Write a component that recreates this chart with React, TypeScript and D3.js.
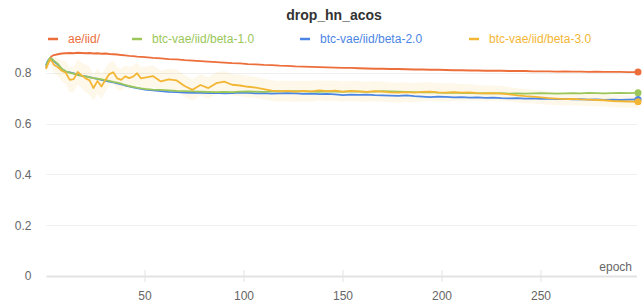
// App.tsx
// Line chart "drop_hn_acos": four training runs plotted against epoch,
// with a faint spread band behind the beta-3.0 run.
import React, { useMemo } from 'react';
import { scaleLinear, line as d3Line, area as d3Area } from 'd3';

const WIDTH = 644;
const HEIGHT = 308;
const FONT = '"Liberation Sans", Arial, Helvetica, sans-serif';

const title = 'drop_hn_acos';
const xLabel = 'epoch';
const xTicks = [50, 100, 150, 200, 250];
const yTicks = [0, 0.2, 0.4, 0.6, 0.8];

const epochs = [
  0, 1, 2, 3, 4, 6, 8, 10, 12, 14, 16, 18, 20, 22, 24, 26, 28, 30, 32, 34, 36, 38, 40, 42, 44, 46, 48,
  50, 54, 58, 62, 66, 70, 74, 78, 82, 86, 90, 94, 98, 102, 106, 110, 114, 118, 122, 126, 130, 134, 138,
  142, 146, 150, 154, 158, 162, 166, 170, 174, 178, 182, 186, 190, 194, 198, 202, 206, 210, 214, 218,
  222, 226, 230, 234, 238, 242, 246, 250, 254, 258, 262, 266, 270, 274, 278, 282, 286, 290, 294, 299,
];

const aeIid = [
  0.82, 0.84, 0.858, 0.866, 0.87, 0.873, 0.876, 0.877, 0.878, 0.877, 0.879, 0.878, 0.877, 0.878, 0.876,
  0.877, 0.875, 0.876, 0.874, 0.873, 0.872, 0.87, 0.869, 0.867, 0.866, 0.864, 0.863, 0.862, 0.859, 0.857,
  0.854, 0.853, 0.85, 0.848, 0.846, 0.844, 0.842, 0.84, 0.838, 0.837, 0.834, 0.833, 0.831, 0.83, 0.828,
  0.827, 0.825, 0.824, 0.823, 0.822, 0.821, 0.82, 0.819, 0.819, 0.818, 0.817, 0.816, 0.816, 0.815, 0.815,
  0.814, 0.813, 0.813, 0.812, 0.812, 0.811, 0.81, 0.81, 0.809, 0.809, 0.808, 0.808, 0.808, 0.807, 0.807,
  0.807, 0.806, 0.806, 0.806, 0.805, 0.806, 0.805, 0.805, 0.804, 0.805, 0.804, 0.804, 0.804, 0.803, 0.803,
];

const beta1 = [
  0.825, 0.845, 0.858, 0.855, 0.848, 0.835, 0.815, 0.806, 0.8, 0.797, 0.791, 0.788, 0.786, 0.782, 0.779,
  0.777, 0.774, 0.771, 0.768, 0.764, 0.761, 0.757, 0.752, 0.748, 0.745, 0.742, 0.739, 0.737, 0.734, 0.733,
  0.731, 0.729, 0.728, 0.727, 0.726, 0.725, 0.724, 0.725, 0.724, 0.726, 0.727, 0.726, 0.725, 0.727, 0.728,
  0.727, 0.728, 0.727, 0.726, 0.725, 0.727, 0.726, 0.725, 0.727, 0.726, 0.725, 0.726, 0.728, 0.727, 0.726,
  0.725, 0.724, 0.723, 0.724, 0.722, 0.721, 0.722, 0.72, 0.721, 0.719, 0.72, 0.719, 0.72, 0.718, 0.719,
  0.718, 0.719, 0.72, 0.719, 0.718, 0.719, 0.72, 0.719, 0.721, 0.72, 0.719, 0.72, 0.721, 0.72, 0.721,
];

const beta2 = [
  0.83, 0.848, 0.856, 0.852, 0.845, 0.832, 0.815, 0.805, 0.802, 0.798, 0.793, 0.789, 0.786, 0.783, 0.779,
  0.776, 0.772, 0.768, 0.765, 0.762, 0.758, 0.754, 0.75, 0.747, 0.743, 0.74, 0.737, 0.734, 0.731, 0.728,
  0.725, 0.724, 0.722, 0.721, 0.721, 0.72, 0.721, 0.719, 0.72, 0.722, 0.721, 0.719, 0.72, 0.718, 0.719,
  0.72, 0.719, 0.717, 0.718, 0.716, 0.717, 0.715, 0.712, 0.714, 0.713, 0.714, 0.712, 0.711, 0.71, 0.709,
  0.711, 0.708, 0.706, 0.704, 0.706, 0.705, 0.703, 0.704, 0.702, 0.703, 0.701, 0.702, 0.7, 0.699, 0.7,
  0.698, 0.699, 0.697, 0.698, 0.696, 0.697, 0.695, 0.696, 0.694, 0.695, 0.693, 0.694, 0.693, 0.694, 0.695,
];

const beta3 = [
  0.815, 0.835, 0.852, 0.845, 0.832, 0.822, 0.808, 0.8, 0.772, 0.775, 0.803, 0.79, 0.778, 0.77, 0.74,
  0.768, 0.746, 0.772, 0.795, 0.802, 0.778, 0.772, 0.786, 0.779, 0.785, 0.798, 0.778, 0.781, 0.787, 0.766,
  0.774, 0.77, 0.748, 0.733, 0.752, 0.74, 0.759, 0.765, 0.753, 0.75, 0.745, 0.742, 0.736, 0.73, 0.727,
  0.729, 0.726, 0.729, 0.727, 0.731, 0.728, 0.73, 0.726, 0.729, 0.727, 0.725, 0.728, 0.726, 0.723, 0.722,
  0.724, 0.722, 0.725, 0.726, 0.723, 0.722, 0.724, 0.722, 0.723, 0.72, 0.719, 0.72, 0.718, 0.715, 0.711,
  0.708, 0.706, 0.703, 0.7, 0.698, 0.696, 0.697, 0.695, 0.694, 0.693, 0.692, 0.689, 0.688, 0.687, 0.686,
];

// half-width of the faint band drawn around beta-3.0
const beta3Spread = [
  0.01, 0.015, 0.02, 0.025, 0.03, 0.035, 0.04, 0.045, 0.05, 0.05, 0.05, 0.05, 0.055, 0.055, 0.05, 0.05,
  0.048, 0.046, 0.045, 0.045, 0.045, 0.044, 0.044, 0.044, 0.043, 0.043, 0.043, 0.043, 0.043, 0.042, 0.042,
  0.042, 0.042, 0.042, 0.042, 0.042, 0.042, 0.042, 0.042, 0.042, 0.042, 0.041, 0.041, 0.041, 0.041, 0.041,
  0.041, 0.041, 0.041, 0.04, 0.04, 0.04, 0.04, 0.04, 0.04, 0.04, 0.04, 0.04, 0.039, 0.039, 0.039, 0.038,
  0.038, 0.037, 0.037, 0.036, 0.035, 0.034, 0.033, 0.032, 0.031, 0.03, 0.03, 0.029, 0.028, 0.028, 0.027,
  0.027, 0.026, 0.026, 0.025, 0.025, 0.025, 0.025, 0.025, 0.025, 0.025, 0.025, 0.025, 0.025,
];

interface Series {
  name: string;
  color: string;
  values: number[];
}

const series: Series[] = [
  { name: 'ae/iid/', color: '#ec6e3b', values: aeIid },
  { name: 'btc-vae/iid/beta-1.0', color: '#9bc75a', values: beta1 },
  { name: 'btc-vae/iid/beta-2.0', color: '#4c86e4', values: beta2 },
  { name: 'btc-vae/iid/beta-3.0', color: '#f3b634', values: beta3 },
];

// draw order: the later ones sit on top
const drawOrder = [0, 2, 1, 3];
const legendX = [48, 132, 300, 469];

export default function App() {
  const x = useMemo(() => scaleLinear().domain([0, 299]).range([46, 638]), []);
  const y = useMemo(() => scaleLinear().domain([0, 1]).range([276, 22]), []);

  const lineGen = d3Line<number>()
    .x((_, i) => x(epochs[i]))
    .y((d) => y(d));

  const bandGen = d3Area<number>()
    .x((_, i) => x(epochs[i]))
    .y0((d, i) => y(d - beta3Spread[i]))
    .y1((d, i) => y(d + beta3Spread[i]));

  const last = epochs.length - 1;

  return (
    <div style={{ position: 'fixed', left: 0, top: 0 }}>
      <svg width={WIDTH} height={HEIGHT} style={{ display: 'block', fontFamily: FONT }}>
        <rect width={WIDTH} height={HEIGHT} fill="#fff" />

        <text x={334} y={20} textAnchor="middle" fontSize={14} fontWeight="bold" fill="#333">
          {title}
        </text>

        {series.map((s, i) => (
          <g key={s.name} transform={`translate(${legendX[i]},39)`}>
            <line x1={0} x2={10} y1={0} y2={0} stroke={s.color} strokeWidth={2.5} />
            <text x={20} y={4.3} fontSize={12} fill={s.color}>
              {s.name}
            </text>
          </g>
        ))}

        {/* grid */}
        {yTicks.map((t) => (
          <g key={t}>
            <line
              x1={46.5}
              x2={637}
              y1={Math.round(y(t)) + 0.5}
              y2={Math.round(y(t)) + 0.5}
              stroke={t === 0 ? '#e3e3e3' : '#efefef'}
              strokeWidth={t === 0 ? 2 : 1}
            />
            <text x={31.5} y={y(t) + 4.3} textAnchor="end" fontSize={12} fill="#666">
              {t === 0 ? '0' : t.toFixed(1)}
            </text>
          </g>
        ))}

        {xTicks.map((t) => (
          <g key={t}>
            <line x1={x(t)} x2={x(t)} y1={270} y2={282} stroke="#e3e3e3" strokeWidth={1} />
            <text x={x(t)} y={300} textAnchor="middle" fontSize={12} fill="#666">
              {t}
            </text>
          </g>
        ))}
        <text x={632} y={271} textAnchor="end" fontSize={12} fill="#666">
          {xLabel}
        </text>

        {/* spread band for beta-3.0 */}
        <path d={bandGen(beta3) || ''} fill="#f3b634" fillOpacity={0.1} stroke="none" />

        {drawOrder.map((i) => {
          const s = series[i];
          return (
            <path
              key={s.name}
              d={lineGen(s.values) || ''}
              fill="none"
              stroke={s.color}
              strokeWidth={1.8}
              strokeLinejoin="round"
            />
          );
        })}

        {series.map((s) => (
          <circle key={s.name} cx={x(epochs[last])} cy={y(s.values[last])} r={3.5} fill={s.color} />
        ))}
      </svg>
    </div>
  );
}
